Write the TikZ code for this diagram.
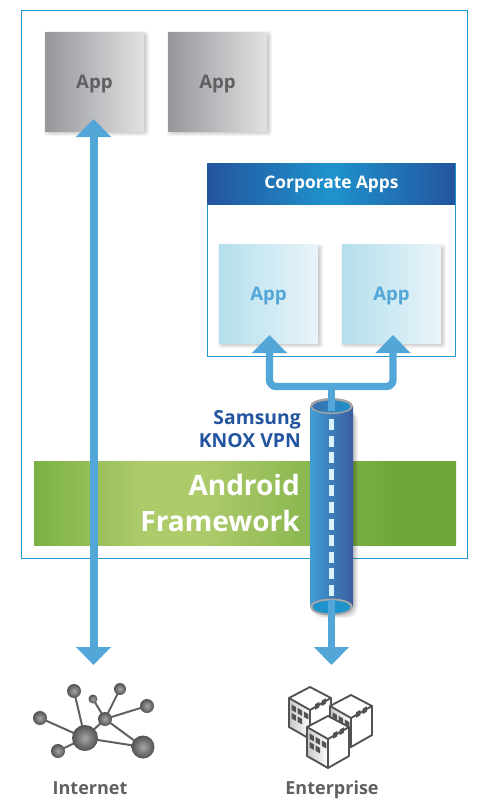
\documentclass[tikz,border=0pt]{standalone}
\usepackage{fontspec}
\setmainfont{Open Sans}
\usepackage{xcolor}
\usetikzlibrary{arrows.meta}
\definecolor{framecol}{HTML}{1F9AD0}
\definecolor{linkcol}{HTML}{52A6D8}
\definecolor{titlecol}{HTML}{23549F}
\definecolor{graytext}{HTML}{5F6062}
\definecolor{bandA}{HTML}{7AB144}
\definecolor{bandB}{HTML}{AECB6C}
\definecolor{bandC}{HTML}{6FA83A}
\definecolor{headA}{HTML}{23549F}
\definecolor{headB}{HTML}{1F93CC}
\definecolor{tubeA}{HTML}{409CD2}
\definecolor{tubeB}{HTML}{3A5DA0}
\definecolor{grayA}{HTML}{96979B}
\definecolor{grayB}{HTML}{E2E2E4}
\definecolor{paleA}{HTML}{B4DFEC}
\definecolor{paleB}{HTML}{E9F4F9}
\pgfdeclarehorizontalshading{bandshade}{100bp}{color(0bp)=(bandA); color(25bp)=(bandA); color(38bp)=(bandB); color(45bp)=(bandB); color(67bp)=(bandC); color(100bp)=(bandC)}
\pgfdeclarehorizontalshading{headshade}{100bp}{color(0bp)=(headA); color(25bp)=(headA); color(50bp)=(headB); color(75bp)=(headA); color(100bp)=(headA)}
\newcommand{\softshadow}[4]{%
  \foreach \grow in {0,1,2,3,4}
    \fill[black,opacity=.045,rounded corners=2pt] (#1+3-\grow,#2+3-\grow) rectangle (#3+1+\grow,#4+1+\grow);
}
\tikzset{
  appbox/.style={minimum width=74.25pt,minimum height=74.25pt,inner sep=0pt,text depth=0pt,
    font=\fontsize{14}{16}\selectfont\bfseries},
  grayapp/.style={appbox,left color=grayA,right color=grayB,text=graytext},
  blueapp/.style={appbox,left color=paleA,right color=paleB,text=linkcol},
  caption/.style={anchor=base,font=\fontsize{13.5}{16}\selectfont\bfseries,text=graytext},
  link/.style={draw=linkcol,line width=6pt,>={Triangle[length=13.5pt,width=25.5pt]}},
  netline/.style={draw=black!62,line width=1.5pt},
  ball/.style={circle,inner sep=0pt,inner color=black!35,outer color=black!68},
  pics/tower/.style={code={
    \fill[white] (0,0) -- (21,11) -- (21,40) -- (0,52) -- (-21,40) -- (-21,11) -- cycle;
    \shade[left color=black!22,right color=white] (-21,11) -- (0,23) -- (0,52) -- (-21,40) -- cycle;
    \draw[black!68,line width=1.4pt,line join=round] (0,0) -- (21,11) -- (21,40) -- (0,52) -- (-21,40) -- (-21,11) -- cycle;
    \draw[black!68,line width=1.4pt,line join=round] (-21,11) -- (0,23) -- (21,11) (0,23) -- (0,52);
    \foreach \col/\row in {0/0,1/0,2/0,0/1,1/1} {
      \pgfmathsetmacro\wx{-18.5+6.2*\col}
      \pgfmathsetmacro\wy{16+0.57*(\wx+21)+8.5*\row}
      \fill[black!68] (\wx,\wy) -- ++(4.4,2.5) -- ++(0,5.5) -- ++(-4.4,-2.5) -- cycle;
    }
    \foreach \col in {0,1} {
      \pgfmathsetmacro\wx{5+6.5*\col}
      \pgfmathsetmacro\wy{20-0.55*(\wx)}
      \fill[black!68] (\wx,\wy) -- ++(4.4,-2.4) -- ++(0,5.5) -- ++(-4.4,2.4) -- cycle;
    }
  }}
}
\begin{document}
\begin{tikzpicture}[x=0.75pt,y=-0.75pt,line cap=butt]
\useasboundingbox (0,0) rectangle (485,807);
\fill[white] (0,0) rectangle (485,807);
% outer frame and apps
\draw[framecol,line width=0.75pt] (21.5,10.5) rectangle (467,558);
\softshadow{45}{32}{144}{131}
\softshadow{168}{32}{267}{131}
\node[grayapp] (appa) at (94.5,81.5) {App};
\node[grayapp] (appb) at (217.5,81.5) {App};
% corporate box
\draw[framecol,line width=0.75pt] (207.5,163.5) rectangle (455,356);
\shade[shading=headshade] (207.5,163.5) rectangle (455,204);
\node[font=\fontsize{13}{14}\selectfont\bfseries,text=white] (corptitle) at (331.5,184) {Corporate Apps};
\softshadow{219}{245}{318}{343}
\softshadow{342}{245}{441}{343}
\node[blueapp] (appc) at (268.5,294) {App};
\node[blueapp] (appd) at (391.5,294) {App};
% android band
\shade[shading=bandshade] (34,461) rectangle (456,545);
\node[align=right,anchor=east,text=white,inner sep=0pt,font=\fontsize{21}{27}\selectfont\bfseries] (android) at (300,503) {Android\\Framework};
\node[align=right,anchor=east,text=titlecol,inner sep=0pt,font=\fontsize{14.5}{17}\selectfont\bfseries] (vpnlabel) at (301,429) {Samsung\\KNOX VPN};
% network icon
\foreach \name/\px/\py in {hub/85/738,big/143/747,mid/105/719,na/74/691,nb/93/699,nc/120/689,nd/147/706,ne/40/718,nf/58/751}
  \coordinate (\name) at (\px,\py);
\foreach \a/\b in {hub/na,hub/ne,hub/nf,hub/mid,hub/big,mid/big,mid/nb,mid/nc,mid/nd}
  \draw[netline] (\a) -- (\b);
\foreach \name/\rad in {hub/13,big/11.5,mid/7,na/7,nb/4.5,nc/6,nd/7,ne/7,nf/7}
  \node[ball,minimum size=\rad*1.5pt] at (\name) {};
\node[caption] (internet) at (90,794) {Internet};
% buildings
\pic at (310,687) {tower};
\pic at (351,695) {tower};
\pic at (328,716) {tower};
\node[caption] (enterprise) at (332,794) {Enterprise};
% links
\coordinate (inettop) at (93.5,119);
\coordinate (inetbot) at (93.5,665);
\draw[link,<->] (inettop) -- (inetbot);
\coordinate (tipc) at (269.5,335);
\coordinate (tipd) at (393,335);
\coordinate (forkl) at (269.5,386.5);
\coordinate (forkr) at (393,386.5);
\coordinate (forkm) at (331.5,386.5);
\coordinate (stemtop) at (331.5,411);
\draw[link,line width=5.5pt,rounded corners=5pt,<->] (tipc) -- (forkl) -- (forkr) -- (tipd);
% vpn tube
\foreach \grow in {0,1,2,3,4}
  \fill[black,opacity=.05,rounded corners=8pt] (316-\grow,410) rectangle (354+\grow,614+\grow);
\shade[left color=tubeA,right color=tubeB]
  (310,406) -- (310,607) arc[start angle=180,end angle=360,x radius=21.5,y radius=8] -- (353,406) -- cycle;
\fill[black!35] (331.5,406) ellipse[x radius=21.5,y radius=8];
\shade[left color=tubeB!70!tubeA,right color=headB] (331.5,406.5) ellipse[x radius=19,y radius=6];
\draw[draw=linkcol,line width=5.5pt] (forkm) -- (stemtop);
\fill[black!35] (331.5,607) ellipse[x radius=21.5,y radius=8.5];
\fill[headB] (331.5,607) ellipse[x radius=19,y radius=6.5];
\foreach \dy in {0,...,10}
  \fill[white!85!cyan] (329,419+16.6*\dy) rectangle (334,430+16.6*\dy);
\coordinate (stembot) at (331.5,600);
\coordinate (tubetip) at (331.5,665);
\draw[link,line width=5.5pt,->] (stembot) -- (tubetip);
\end{tikzpicture}
\end{document}
